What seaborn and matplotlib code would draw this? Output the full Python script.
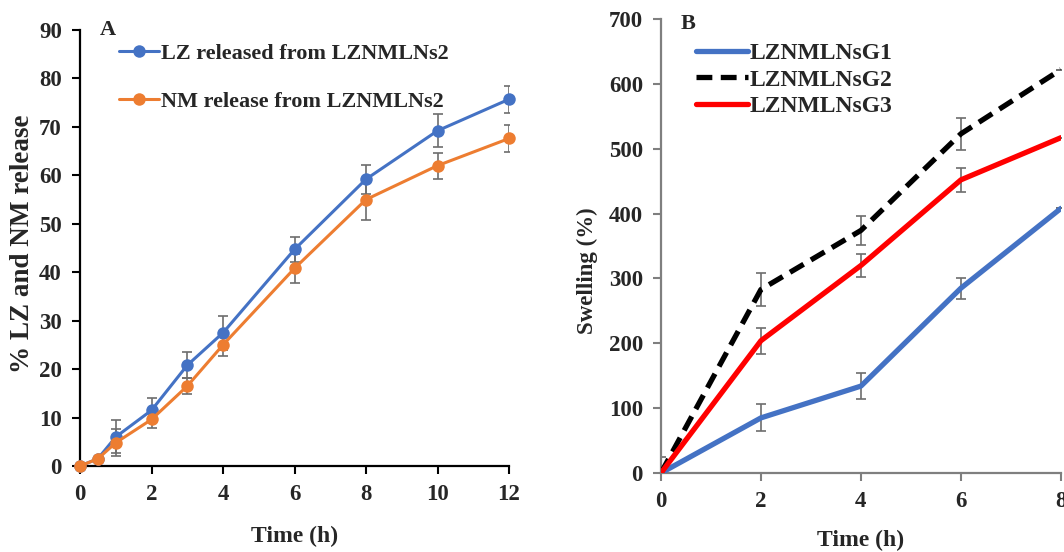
import pandas as pd
import matplotlib
matplotlib.use("Agg")
import matplotlib.pyplot as plt
import seaborn as sns

# ====================================================
# DATA
# ====================================================
time_a = [0, 0.5, 1, 2, 3, 4, 6, 8, 10, 12]
lz_release = [0, 1.5, 6.0, 11.5, 20.8, 27.5, 44.7, 59.2, 69.2, 75.7]
lz_err = [0, 0, 3.4, 2.5, 2.7, 3.5, 2.5, 3.0, 3.4, 2.8]
nm_release = [0, 1.5, 4.8, 9.6, 16.5, 25.0, 40.8, 55.0, 62.0, 67.6]
nm_err = [0, 0, 2.8, 1.8, 1.7, 2.3, 3.0, 4.3, 2.7, 2.7]
labels_a = ["LZ released from LZNMLNs2", "NM release from LZNMLNs2"]

time_b = [0, 2, 4, 6, 8]
g1 = [0, 85, 134, 285, 408]
g1_err = [0, 21, 20, 16, 0]
g2 = [0, 283, 374, 523, 622]
g2_err = [25, 25, 22, 25, 0]
g3 = [0, 204, 320, 452, 517]
g3_err = [0, 20, 18, 19, 0]
labels_b = ["LZNMLNsG1", "LZNMLNsG2", "LZNMLNsG3"]

df_a = pd.DataFrame({
    "Time": time_a * 2,
    "Release": lz_release + nm_release,
    "Err": lz_err + nm_err,
    "Serie": [labels_a[0]] * len(time_a) + [labels_a[1]] * len(time_a),
})
df_b = pd.DataFrame({
    "Time": time_b * 3,
    "Swelling": g1 + g2 + g3,
    "Err": g1_err + g2_err + g3_err,
    "Serie": [labels_b[0]] * 5 + [labels_b[1]] * 5 + [labels_b[2]] * 5,
})

# ====================================================
# STYLE
# ====================================================
sns.set_style("white")
plt.rcParams["font.family"] = ["Liberation Serif", "DejaVu Serif"]
plt.rcParams["font.weight"] = "bold"
plt.rcParams["axes.labelweight"] = "bold"

fig = plt.figure(figsize=(10.64, 5.52), dpi=100)
ax_a = fig.add_axes([0.0752, 0.1558, 0.4032, 0.7899])
ax_b = fig.add_axes([0.6212, 0.1431, 0.3759, 0.8225])

# ====================================================
# PANEL A
# ====================================================
cores_a = {labels_a[0]: "#4472C4", labels_a[1]: "#ED7D31"}
sns.lineplot(data=df_a, x="Time", y="Release", hue="Serie", palette=cores_a,
             marker="o", markersize=9, markeredgewidth=0, linewidth=2.2,
             ax=ax_a, clip_on=False, zorder=3)
for serie, grupo in df_a.groupby("Serie"):
    ax_a.errorbar(grupo["Time"], grupo["Release"], yerr=grupo["Err"], fmt="none",
                  ecolor="#6d6d6d", elinewidth=1.2, capsize=3.5, capthick=1.2, zorder=2)

ax_a.set_xlim(0, 12)
ax_a.set_ylim(0, 90)
ax_a.set_xticks(range(0, 13, 2))
ax_a.set_yticks(range(0, 91, 10))
ax_a.set_xlabel("Time (h)", fontsize=17, labelpad=15)
ax_a.set_ylabel("% LZ and NM release", fontsize=19.5)
ax_a.yaxis.set_label_coords(-0.105, 0.51)
ax_a.tick_params(labelsize=16.5, direction="out", length=6, width=1.5, color="black",
                 left=True, bottom=True, pad=7)
for lado in ["top", "right"]:
    ax_a.spines[lado].set_visible(False)
for lado in ["left", "bottom"]:
    ax_a.spines[lado].set_color("black")
    ax_a.spines[lado].set_linewidth(1.6)
ax_a.text(0.047, 1.0, "A", transform=ax_a.transAxes, fontsize=16,
          fontweight="bold", va="center")
ax_a.legend(loc="upper left", bbox_to_anchor=(0.069, 0.99), frameon=False,
            fontsize=16, labelspacing=1.25, handlelength=1.8, handletextpad=0.1,
            borderaxespad=0)

# ====================================================
# PANEL B
# ====================================================
cores_b = {labels_b[0]: "#4472C4", labels_b[1]: "black", labels_b[2]: "#FF0000"}
for serie in labels_b:
    grupo = df_b[df_b["Serie"] == serie]
    ax_b.errorbar(grupo["Time"], grupo["Swelling"], yerr=grupo["Err"], fmt="none",
                  ecolor="#6d6d6d", elinewidth=1.2, capsize=3.5, capthick=1.2, zorder=2)
sns.lineplot(data=df_b, x="Time", y="Swelling", hue="Serie", palette=cores_b,
             style="Serie", dashes={labels_b[0]: "", labels_b[1]: (3, 1.6), labels_b[2]: ""},
             linewidth=3.8, ax=ax_b, zorder=3)

ax_b.set_xlim(0, 8)
ax_b.set_ylim(0, 700)
ax_b.set_xticks(range(0, 9, 2))
ax_b.set_yticks(range(0, 701, 100))
ax_b.set_xlabel("Time (h)", fontsize=17, labelpad=13)
ax_b.set_ylabel("Swelling (%)", fontsize=16.5)
ax_b.yaxis.set_label_coords(-0.158, 0.445)
ax_b.tick_params(labelsize=16.5, direction="out", length=6, width=1.5, color="#7f7f7f",
                 left=True, bottom=True, pad=7)
for lado in ["top", "right"]:
    ax_b.spines[lado].set_visible(False)
for lado in ["left", "bottom"]:
    ax_b.spines[lado].set_color("#7f7f7f")
    ax_b.spines[lado].set_linewidth(1.6)
ax_b.text(0.048, 0.99, "B", transform=ax_b.transAxes, fontsize=16,
          fontweight="bold", va="center")
ax_b.legend(loc="upper left", bbox_to_anchor=(0.063, 0.968), frameon=False,
            fontsize=17, labelspacing=0.2, handlelength=2.2, handletextpad=0.1,
            borderaxespad=0)

fig.savefig("out.png", dpi=100)
